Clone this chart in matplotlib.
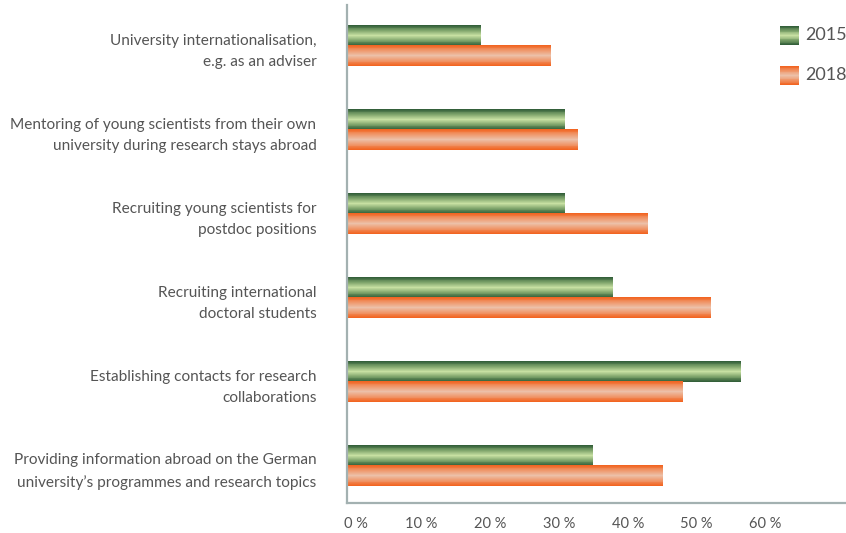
import numpy as np
import matplotlib
matplotlib.use("Agg")
import matplotlib.pyplot as plt
from matplotlib.colors import LinearSegmentedColormap
from matplotlib.transforms import ScaledTranslation

plt.rcParams['font.family'] = ['Lato', 'DejaVu Sans']

categories = [
    "University internationalisation,\ne.g. as an adviser",
    "Mentoring of young scientists from their own\nuniversity during research stays abroad",
    "Recruiting young scientists for\npostdoc positions",
    "Recruiting international\ndoctoral students",
    "Establishing contacts for research\ncollaborations",
    "Providing information abroad on the German\nuniversity\u2019s programmes and research topics",
]
series_names = ["2015", "2018"]
values_2015 = [19.4, 31.5, 31.5, 38.5, 57.0, 35.6]
values_2018 = [29.5, 33.4, 43.5, 52.7, 48.6, 45.7]
xticks = [0, 10, 20, 30, 40, 50, 60]
xtick_labels = ["0 %", "10 %", "20 %", "30 %", "40 %", "50 %", "60 %"]

W, H = 846, 533
fig = plt.figure(figsize=(W / 100, H / 100), dpi=100)
ax = fig.add_axes([347 / W, 30 / H, 498 / W, 498 / H])

green_cmap = LinearSegmentedColormap.from_list("g", ["#34603a", "#7da36a", "#cfe6a8", "#7da36a", "#34603a"])
orange_cmap = LinearSegmentedColormap.from_list("o", ["#f26522", "#f0976a", "#ecc4ae", "#f0976a", "#f26522"])
grad = np.linspace(0, 1, 24).reshape(-1, 1)

y = np.arange(len(categories))
bh = 0.24
bars15 = ax.barh(y - bh / 2, values_2015, height=bh, color='none', edgecolor='none')
bars18 = ax.barh(y + bh / 2, values_2018, height=bh, color='none', edgecolor='none')
for bars, cmap in ((bars15, green_cmap), (bars18, orange_cmap)):
    for b in bars:
        x0, y0, w, h = b.get_x(), b.get_y(), b.get_width(), b.get_height()
        ax.imshow(grad, extent=[x0, x0 + w, y0 + h, y0], aspect='auto', cmap=cmap,
                  interpolation='nearest', zorder=2)

ax.set_xlim(0, 72.2)
ax.set_ylim(5.44, -0.49)
ax.set_aspect('auto')

txt_color = '#555555'
ax.set_yticks(y)
ax.set_yticklabels(categories, fontsize=11.1, color=txt_color, linespacing=1.65,
                   ha='right')
ax.tick_params(axis='y', length=0, pad=22)

ax.set_xticks(xticks)
ax.set_xticklabels(xtick_labels, fontsize=10.5, color=txt_color, ha='right')
ax.tick_params(axis='x', length=0, pad=10)
offset = ScaledTranslation(21 / 100, 0, fig.dpi_scale_trans)
for lbl in ax.get_xticklabels():
    lbl.set_transform(lbl.get_transform() + offset)

for s in ('top', 'right'):
    ax.spines[s].set_visible(False)
for s in ('left', 'bottom'):
    ax.spines[s].set_color('#a3b1b1')
    ax.spines[s].set_linewidth(1.6)

# legend
for i, (name, cmap) in enumerate(zip(series_names, (green_cmap, orange_cmap))):
    top = 26 + i * 40
    sax = fig.add_axes([780 / W, (H - top - 19) / H, 19 / W, 19 / H])
    sax.imshow(grad, aspect='auto', cmap=cmap, interpolation='nearest')
    sax.axis('off')
    fig.text(805 / W, (H - top - 9.5) / H, name, fontsize=13, color=txt_color,
             va='center', ha='left')

fig.savefig("out.png", dpi=100)
